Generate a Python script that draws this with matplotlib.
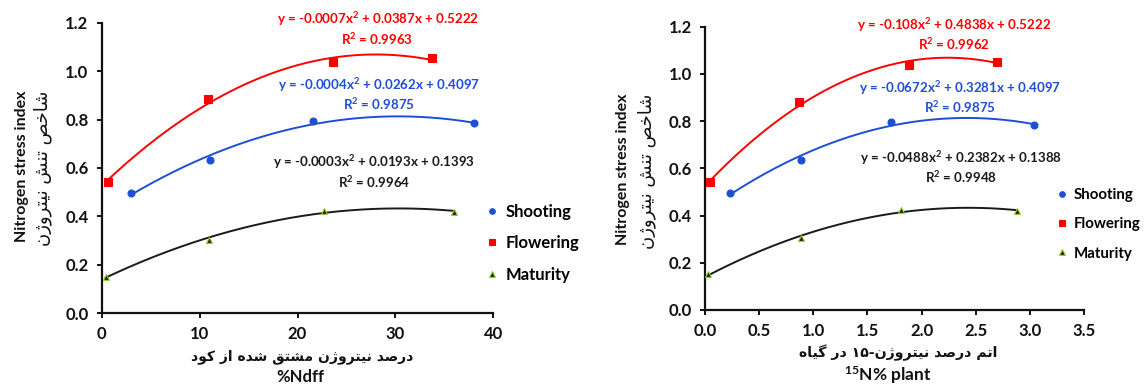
import re
import numpy as np
import matplotlib
matplotlib.use("Agg")
import matplotlib.pyplot as plt

# ---------------- data ----------------
stages = ["Shooting", "Flowering", "Maturity"]

ndff_shooting_x = [3.0, 11.1, 21.6, 38.0]
ndff_shooting_y = [0.498, 0.633, 0.795, 0.784]
ndff_flowering_x = [0.6, 10.9, 23.6, 33.7]
ndff_flowering_y = [0.543, 0.884, 1.038, 1.053]
ndff_maturity_x = [0.4, 11.0, 22.7, 36.0]
ndff_maturity_y = [0.151, 0.303, 0.424, 0.420]

n15_shooting_x = [0.23, 0.89, 1.72, 3.04]
n15_shooting_y = [0.497, 0.635, 0.795, 0.784]
n15_flowering_x = [0.05, 0.87, 1.88, 2.70]
n15_flowering_y = [0.543, 0.882, 1.038, 1.052]
n15_maturity_x = [0.03, 0.89, 1.81, 2.88]
n15_maturity_y = [0.151, 0.304, 0.424, 0.420]

ndff_eqs = ["y = -0.0007x$^{\\mathbf{2}}$ + 0.0387x + 0.5222\nR$^{\\mathbf{2}}$ = 0.9963",
            "y = -0.0004x$^{\\mathbf{2}}$ + 0.0262x + 0.4097\nR$^{\\mathbf{2}}$ = 0.9875",
            "y = -0.0003x$^{\\mathbf{2}}$ + 0.0193x + 0.1393\nR$^{\\mathbf{2}}$ = 0.9964"]
n15_eqs = ["y = -0.108x$^{\\mathbf{2}}$ + 0.4838x + 0.5222\nR$^{\\mathbf{2}}$ = 0.9962",
           "y = -0.0672x$^{\\mathbf{2}}$ + 0.3281x + 0.4097\nR$^{\\mathbf{2}}$ = 0.9875",
           "y = -0.0488x$^{\\mathbf{2}}$ + 0.2382x + 0.1388\nR$^{\\mathbf{2}}$ = 0.9948"]

ylabel_en = "Nitrogen stress index"
ylabel_fa = "شاخص تنش نیتروژن"
xlabel_left_fa = "درصد نیتروژن مشتق شده از کود"
xlabel_left_en = "%Ndff"
xlabel_right_fa = "اتم درصد نیتروژن-۱۵ در گیاه"
xlabel_right_en = "$^{\\mathbf{15}}$N% plant"

# ---------------- Persian shaping ----------------
FORMS = {
    "ا": ("\uFE8D", "\uFE8E", None, None),
    "ت": ("\uFE95", "\uFE96", "\uFE97", "\uFE98"),
    "خ": ("\uFEA5", "\uFEA6", "\uFEA7", "\uFEA8"),
    "د": ("\uFEA9", "\uFEAA", None, None),
    "ر": ("\uFEAD", "\uFEAE", None, None),
    "ز": ("\uFEAF", "\uFEB0", None, None),
    "ژ": ("\uFB8A", "\uFB8B", None, None),
    "ش": ("\uFEB5", "\uFEB6", "\uFEB7", "\uFEB8"),
    "ص": ("\uFEB9", "\uFEBA", "\uFEBB", "\uFEBC"),
    "ق": ("\uFED5", "\uFED6", "\uFED7", "\uFED8"),
    "م": ("\uFEE1", "\uFEE2", "\uFEE3", "\uFEE4"),
    "ن": ("\uFEE5", "\uFEE6", "\uFEE7", "\uFEE8"),
    "ه": ("\uFEE9", "\uFEEA", "\uFEEB", "\uFEEC"),
    "و": ("\uFEED", "\uFEEE", None, None),
    "ی": ("\uFBFC", "\uFBFD", "\uFBFE", "\uFBFF"),
    "ک": ("\uFB8E", "\uFB8F", "\uFB90", "\uFB91"),
    "گ": ("\uFB92", "\uFB93", "\uFB94", "\uFB95"),
}


def fa(s):
    out = []
    for i, c in enumerate(s):
        if c not in FORMS:
            out.append(c)
            continue
        prev = s[i - 1] if i > 0 else None
        nxt = s[i + 1] if i + 1 < len(s) else None
        jp = prev in FORMS and FORMS[prev][2] is not None
        jn = nxt in FORMS and FORMS[c][2] is not None
        iso, fin, ini, med = FORMS[c]
        if jp and jn:
            out.append(med)
        elif jp:
            out.append(fin)
        elif jn:
            out.append(ini)
        else:
            out.append(iso)
    vis = "".join(out)[::-1]
    return re.sub(r"[۰-۹0-9]+", lambda m: m.group()[::-1], vis)


# ---------------- style ----------------
plt.rcParams["font.family"] = ["Lato", "DejaVu Sans"]
plt.rcParams["mathtext.fontset"] = "custom"
plt.rcParams["mathtext.rm"] = "Lato:bold"
plt.rcParams["mathtext.bf"] = "Lato:bold"
plt.rcParams["mathtext.it"] = "Lato:bold"

RED = "#ff0000"
BLUE = "#1d4fd6"
BLACK = "#1a1a1a"
TRI_FACE = "#1f2a00"
TRI_EDGE = "#9acd32"

W, H = 1144, 385
fig = plt.figure(figsize=(W / 100, H / 100), dpi=100)


def px_axes(x0, x1, y0, y1):
    return fig.add_axes([x0 / W, 1 - y1 / H, (x1 - x0) / W, (y1 - y0) / H])


def style_axes(ax):
    for s in ["top", "right"]:
        ax.spines[s].set_visible(False)
    for s in ["left", "bottom"]:
        ax.spines[s].set_linewidth(1.6)
        ax.spines[s].set_color("#111111")
    ax.tick_params(direction="out", length=3.5, width=1.4, pad=6,
                   labelsize=12, colors="#111111")
    for lab in ax.get_xticklabels() + ax.get_yticklabels():
        lab.set_fontweight("bold")


def draw_panel(ax, series, eqs, eq_pos, xlim, xticks, xfmt):
    colors = [BLUE, RED, BLACK]
    markers = ["o", "s", "^"]
    faces = [BLUE, RED, TRI_FACE]
    edges = [BLUE, RED, TRI_EDGE]
    sizes = [5.0, 5.5, 5.0]
    handles = []
    for (xs, ys), name, c, m, fc, ec, ms in zip(series, stages, colors, markers, faces, edges, sizes):
        coef = np.polyfit(xs, ys, 2)
        xx = np.linspace(min(xs), max(xs), 200)
        ax.plot(xx, np.polyval(coef, xx), color=c, lw=1.4, zorder=2)
        h, = ax.plot(xs, ys, ls="none", marker=m, ms=ms, mfc=fc, mec=ec, mew=0.8,
                     label=name, zorder=3)
        handles.append(h)
    ax.set_xlim(*xlim)
    ax.set_ylim(0, 1.2)
    ax.set_xticks(xticks)
    ax.set_xticklabels([xfmt.format(v) for v in xticks])
    ax.set_yticks(np.arange(0, 1.21, 0.2))
    ax.set_yticklabels(["{:.1f}".format(v) for v in np.arange(0, 1.21, 0.2)])
    style_axes(ax)
    for txt, c, (cx, cy) in zip(eqs, [RED, BLUE, BLACK], eq_pos):
        fig.text(cx / W, 1 - cy / H, txt, color=c, fontsize=9.6, fontweight="bold",
                 ha="center", va="center", linespacing=1.2)
    return handles


# ---------------- left panel ----------------
axL = px_axes(101.7, 493.3, 22.7, 313.3)
hL = draw_panel(axL,
                [(ndff_shooting_x, ndff_shooting_y),
                 (ndff_flowering_x, ndff_flowering_y),
                 (ndff_maturity_x, ndff_maturity_y)],
                ndff_eqs, [(377.5, 28.5), (379, 94), (374, 171.5)],
                (0, 40), [0, 10, 20, 30, 40], "{:.0f}")
fig.legend(handles=hL, labels=stages, loc="upper left",
           bbox_to_anchor=(485 / W, 1 - 204 / H), frameon=False,
           handlelength=0.8, handletextpad=0.45, labelspacing=0.92, markerscale=0.8,
           borderaxespad=0, borderpad=0, prop={"weight": "bold", "size": 12})

# ---------------- right panel ----------------
axR = px_axes(705, 1084, 26.7, 310)
hR = draw_panel(axR,
                [(n15_shooting_x, n15_shooting_y),
                 (n15_flowering_x, n15_flowering_y),
                 (n15_maturity_x, n15_maturity_y)],
                n15_eqs, [(954, 34), (960, 97), (961.5, 167)],
                (0, 3.5), [0, 0.5, 1.0, 1.5, 2.0, 2.5, 3.0, 3.5], "{:.1f}")
fig.legend(handles=hR, labels=stages, loc="upper left",
           bbox_to_anchor=(1056 / W, 1 - 188 / H), frameon=False,
           handlelength=0.8, handletextpad=0.4, labelspacing=1.02, markerscale=0.8,
           borderaxespad=0, borderpad=0, prop={"weight": "bold", "size": 10.8})

# ---------------- axis labels ----------------
for xe, xf, yc in [(21.7, 43, 166), (623, 647, 169)]:
    fig.text(xe / W, 1 - yc / H, ylabel_en, rotation=90, ha="center", va="center",
             fontsize=11.5, fontweight="bold", color="#111111")
    fig.text(xf / W, 1 - (yc + 2) / H, fa(ylabel_fa), rotation=90, ha="center",
             va="center", fontsize=13, family=["DejaVu Sans"], color="#111111")

fig.text(302 / W, 1 - 357 / H, fa(xlabel_left_fa), ha="center", va="center",
         fontsize=10, fontweight="bold", family=["DejaVu Sans"], color="#111111")
fig.text(300 / W, 1 - 377 / H, xlabel_left_en, ha="center", va="center",
         fontsize=12, fontweight="bold", color="#111111")
fig.text(898 / W, 1 - 353 / H, fa(xlabel_right_fa), ha="center", va="center",
         fontsize=10.2, fontweight="bold", family=["DejaVu Sans"], color="#111111")
fig.text(888 / W, 1 - 375 / H, xlabel_right_en, ha="center", va="center",
         fontsize=12.5, fontweight="bold", color="#111111")

fig.savefig("out.png", dpi=100)
